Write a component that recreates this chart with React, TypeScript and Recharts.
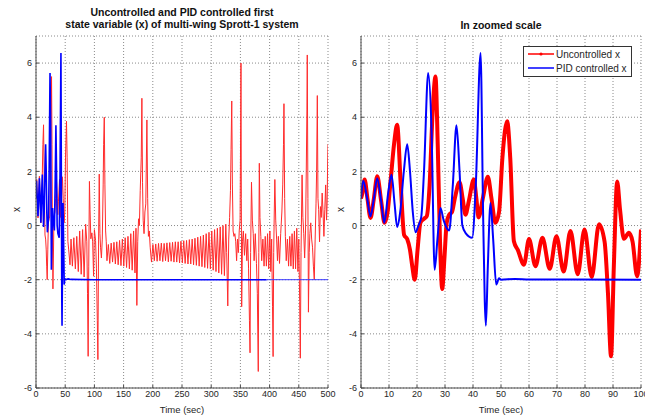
import { LineChart, Line, XAxis, YAxis, CartesianGrid } from 'recharts'

// [time (sec), x]
const uncontrolled: [number, number][] = [
  [0, 1.0], [0.5, 1.2], [1.3, 1.7], [2.3, 1.0], [3.4, 0.28], [4.6, 1.0], [5.8, 1.82], [7.2, 0.9],
  [8.4, 0.1], [9.5, 0.5], [10.7, 1.8], [11.8, 3.0], [12.9, 3.72], [14.2, 1.5], [15.4, -0.35],
  [16.5, -0.5], [17.5, -0.9], [18.3, -1.5], [19.2, -2.0], [20.2, -0.9], [21.2, 0.1], [22.5, 0.25],
  [23.5, 0.35], [24.5, 1.5], [25.5, 4.0], [26.6, 5.5], [27.4, 3.0], [28.2, -0.5], [29, -2.34],
  [29.8, -1.2], [30.6, 0.1], [31.5, 0.4], [32.5, 0.5], [33.5, 1.0], [35.2, 1.6], [36.3, 1.0],
  [37.3, 0.4], [38.5, 0.9], [40.3, 1.7], [41.2, 1.0], [42, 0.3], [43.5, 1.0], [45.3, 1.8],
  [46.6, 1.0], [48, 0.1], [49.3, 0.5], [50.5, 2.5], [52.2, 3.85], [53.3, 2.5], [54.6, -0.58],
  [56, -0.9], [58.2, -1.45], [60, -0.5], [62.3, -1.5], [64.8, -0.45], [67.4, -1.6], [69.8, -0.4],
  [72.4, -1.7], [74.8, -0.2], [77.4, -1.8], [79.8, -0.15], [82.4, -1.9], [85, 0.05], [87, -0.6],
  [88.2, -2.5], [89.3, -4.83], [90.3, -1.5], [91.5, 1.63], [92.5, 0.6], [93.9, -0.49], [95.7, -0.27],
  [97, -0.6], [98.6, -1.87], [100, -0.15],
  [102, -0.55], [103.5, -1.6], [105, -3.5], [106, -4.95], [107.2, -0.5], [108.3, 1.9], [109.5, -0.3],
  [110.5, -0.8], [112, -1.2], [113.5, -0.5], [115, 1.5], [115.8, 3.0], [116.9, 4.0], [118, 1.5],
  [119.2, -0.2], [120.3, -0.6], [121.5, -1.3], [123.9, -0.7], [126.3, -1.4], [128.7, -0.65],
  [131.1, -1.35], [133.5, -0.62], [135.9, -1.42], [138.3, -0.6], [140.7, -1.45], [143.1, -0.55],
  [145.5, -1.48], [147.9, -0.5], [150.3, -1.5], [152.7, -0.45], [155.1, -1.55], [157.5, -0.4],
  [159.9, -1.6], [162.3, -0.3], [164.7, -1.65], [167.1, -0.2], [169.5, -1.75], [171.2, -0.1],
  [172.7, -2.95], [174.2, -0.6], [175.6, 0.25], [177, 0.0], [178.5, 1.3], [180.2, 2.5], [181.3, 4.7],
  [182.4, 1.6], [183.5, 0.2], [185, -0.3], [186.5, 0.5], [188, 0.8], [189.9, 3.9], [191.2, 1.0],
  [192.5, -0.4], [194, -0.2], [195.5, -0.8], [197.8, -1.35], [200.2, -0.7], [202.6, -1.3],
  [205, -0.68], [207.4, -1.32], [209.8, -0.66], [212.2, -1.3], [214.6, -0.65], [217, -1.33],
  [219.4, -0.66], [221.8, -1.3], [224.2, -0.64], [226.6, -1.34], [229, -0.63], [231.4, -1.32],
  [233.8, -0.62], [236.2, -1.35], [238.6, -0.6], [241, -1.35], [243.4, -0.6], [245.8, -1.38],
  [248.2, -0.58], [250.6, -1.38], [253, -0.56], [255.4, -1.4], [257.8, -0.55], [260.2, -1.42],
  [262.6, -0.52], [265, -1.42], [267.4, -0.5], [269.8, -1.45], [272.2, -0.47], [274.6, -1.47],
  [277, -0.43], [279.4, -1.5], [281.8, -0.4], [284.2, -1.52], [286.6, -0.35], [289, -1.55],
  [291.4, -0.3], [293.8, -1.58], [296.2, -0.25], [298.6, -1.6], [301, -0.2], [303.4, -1.65],
  [305.8, -0.15], [308.2, -1.7], [310.6, -0.1], [313, -1.75], [315.4, -0.05], [317.8, -1.8],
  [320.2, 0.0], [322.6, -1.85], [325, 0.05], [326.5, -1.0], [328.4, -2.97], [330, -0.5], [331.5, 0.3],
  [333, 1.3], [334, 2.8], [335.2, 4.6], [336.3, 1.5], [337.5, -0.2], [339, -0.4], [340.5, -0.3],
  [342, -0.6], [343.5, -1.3], [345, -0.5], [346.5, -1.0], [348, -0.2], [349.5, 0.2], [350.5, 4.0],
  [351, 6.0], [351.6, 1.0], [352.2, -3.0], [353.5, -0.6], [355, -0.2], [357, -1.1], [359, -0.3],
  [361, -1.3], [362.5, -0.5], [364, -1.6], [365.5, -3.5], [366.5, -4.7], [367.5, -1.0], [369, 1.6],
  [370.5, 0.2], [372, -0.3], [373.5, -1.3], [375.5, -0.3], [377.5, -1.4], [379, -2.5], [380.6, -5.39],
  [381.5, -1.0], [382.4, 2.3], [383.5, 0.3], [385, -0.4], [386.5, -1.3], [388.5, -0.5], [390.5, -1.5],
  [392.5, -0.4], [394.5, -1.5], [396.5, -0.3], [398.5, -1.6], [400.5, -0.2], [402, -1.7], [403.5, -0.5],
  [405, -3.0], [406, -4.84], [407, -1.0], [408, 0.5], [409, 1.7], [410.5, 0.2], [412, -0.5],
  [413.5, -1.3], [415, -0.4], [417, -1.4], [419, -0.3], [421, 0.5], [422.5, 1.5], [423.8, 3.0],
  [424.6, 4.5], [425.8, 1.0], [427, -0.4], [428.5, -1.3], [430.5, -0.5], [432.5, -1.5], [434.5, -0.4],
  [436.5, -1.5], [438.5, -0.3], [440.5, -1.6], [442.5, -0.2], [444.5, -1.6], [446.5, -0.1],
  [448.5, -1.7], [450, -0.5], [451.5, -2.8], [452.6, -4.9], [453.8, -1.0], [455.6, 1.87], [457, 0.3],
  [458.5, -0.3], [460, -1.2], [461.5, -0.2], [462.8, 2.0], [463.9, 4.3], [464.5, 6.3], [465.6, 1.0],
  [466.5, -3.2], [467.8, -1.0], [469, -0.3], [470.5, 0.1], [472, -0.5], [473.5, -0.8], [475, -1.5],
  [476.5, -2.0], [478, -0.5], [479.5, 0.8], [480.5, 2.0], [481.7, 4.8], [482.8, 1.0], [484, 0.6],
  [485.5, -0.6], [487, 0.7], [488.5, 0.3], [490, 1.2], [491.5, 0.5], [493, -0.4], [494.5, 0.6],
  [496, 1.5], [497.5, 0.2], [498.5, 0.8], [499.5, 2.5], [500, 3.0],
]

const pidControlled: [number, number][] = [
  [0, 1.0], [0.8, 1.65], [2.2, 1.0], [3.4, 0.34], [4.6, 1.0], [5.8, 1.75], [7.2, 0.9], [8.3, 0.1],
  [9.7, 1.2], [10.9, 1.88], [12, 0.8], [12.9, -0.05], [14, 0.5], [15.3, 2.0], [16.5, 3.0], [17.5, 2.0],
  [18.5, 0.5], [19.5, -0.25], [20.5, 0.0], [21.5, 0.3], [22.5, 2.0], [24, 5.63], [25.2, 3.5],
  [26.3, -1.63], [27.3, -0.5], [28.4, 0.65], [29.5, 0.2], [31.5, -0.18], [32.8, 1.5], [34.1, 3.7],
  [35.2, 2.0], [36.2, 0.0], [37.5, -0.3], [39.7, -0.45], [41, 1.5], [42.7, 6.37], [43.6, 0.5],
  [44.2, -2.8], [44.6, -3.7], [45.3, -1.5], [46.25, 0.83], [47.2, -0.5], [48.3, -2.18], [49.3, -1.95],
  [50, -2.0], [55, -1.97], [60, -1.99], [100, -2.0], [395, -2.0], [500, -2.0],
]

const fullTimeTicks = [0, 50, 100, 150, 200, 250, 300, 350, 400, 450, 500]
const zoomTimeTicks = [0, 10, 20, 30, 40, 50, 60, 70, 80, 90, 100]
const stateTicks = [-6, -4, -2, 0, 2, 4, 6]
const seriesNames = ['Uncontrolled x', 'PID controlled x']
const leftTitle = ['Uncontrolled and PID controlled first', 'state variable (x) of multi-wing Sprott-1 system']
const rightTitle = ['In zoomed scale']

const RED = '#ff0000'
const BLUE = '#0000ff'
const FONT = '"Liberation Sans", Arial, Helvetica, sans-serif'
const AXIS = '#4a4a4a'
const TXT = '#262626'

const rows = (pts: [number, number][], from: number, to: number) =>
  pts.filter(([t]) => t >= from && t <= to).map(([t, x]) => ({ t, x }))

interface PanelProps {
  left: number
  width: number
  axisX: number
  plotRight: number
  maxT: number
  ticks: number[]
  zoomed: boolean
  labelOffset: number
}

function Panel({ left, width, axisX, plotRight, maxT, ticks, zoomed, labelOffset }: PanelProps) {
  const red = rows(uncontrolled, 0, maxT)
  const blueThick = rows(pidControlled, 0, zoomed ? maxT : 395)
  const blueThin = rows(pidControlled, 395, maxT)
  const tickStyle = { fill: TXT, fontSize: 9, fontFamily: FONT }

  return (
    <div style={{ position: 'absolute', left, top: 0 }}>
      <LineChart
        width={width}
        height={417}
        margin={{ top: 36, right: width - plotRight, bottom: 3, left: 0 }}
      >
        <CartesianGrid stroke="#8a8a8a" strokeDasharray="1 2" />
        <XAxis
          dataKey="t" type="number" domain={[0, maxT]} ticks={ticks} interval={0}
          allowDataOverflow height={26} stroke={AXIS}
          tickSize={-3} tickMargin={6} tick={tickStyle}
          label={{ value: 'Time (sec)', position: 'insideBottom', offset: 1, fill: TXT, fontSize: 9.5, fontFamily: FONT }}
        />
        <XAxis
          xAxisId="top" orientation="top" type="number" domain={[0, maxT]} ticks={ticks}
          interval={0} height={0} stroke={AXIS} tickSize={-3} tick={false}
        />
        <YAxis
          type="number" domain={[-6, 7]} ticks={stateTicks} interval={0} allowDataOverflow
          width={axisX} stroke={AXIS} tickSize={-3} tickMargin={7} tick={tickStyle}
          label={{ value: 'x', angle: -90, position: 'insideLeft', offset: labelOffset, fill: TXT, fontSize: 10, fontFamily: FONT }}
        />
        <YAxis
          yAxisId="right" orientation="right" type="number" domain={[-6, 7]} ticks={stateTicks}
          interval={0} width={0} stroke={AXIS} tickSize={-3} tick={false}
        />
        <Line
          data={red} dataKey="x" name={seriesNames[0]} type={zoomed ? 'monotone' : 'linear'}
          stroke={zoomed ? RED : '#ff2b2b'} strokeWidth={zoomed ? 4 : 1} dot={false} isAnimationActive={false}
        />
        <Line
          data={blueThick} dataKey="x" name={seriesNames[1]} type={zoomed ? 'monotone' : 'linear'}
          stroke={BLUE} strokeWidth={zoomed ? 2 : 1.6} dot={false} isAnimationActive={false}
        />
        {!zoomed && (
          <Line
            data={blueThin} dataKey="x" type="linear" stroke="#3a3aff"
            strokeWidth={1} dot={false} isAnimationActive={false}
          />
        )}
      </LineChart>
    </div>
  )
}

function Title({ lines, cx }: { lines: string[]; cx: number }) {
  const top = lines.length > 1 ? 6 : 19
  return (
    <div style={{
      position: 'absolute', left: cx - 160, top, width: 320, textAlign: 'center',
      fontFamily: FONT, fontWeight: 700, fontSize: 10.5, lineHeight: '12px', color: '#111',
    }}>
      {lines.map(l => <div key={l}>{l}</div>)}
    </div>
  )
}

export default function App() {
  return (
    <div style={{ position: 'absolute', left: 0, top: 0, width: 645, height: 417, background: '#fff', overflow: 'hidden' }}>
      <Panel left={0} width={345} axisX={36} plotRight={328} maxT={500} ticks={fullTimeTicks} zoomed={false} labelOffset={16} />
      <Panel left={330} width={315} axisX={31} plotRight={311} maxT={100} ticks={zoomTimeTicks} zoomed labelOffset={10} />
      <Title lines={leftTitle} cx={182} />
      <Title lines={rightTitle} cx={501} />

      {/* legend */}
      <div style={{
        position: 'absolute', left: 523, top: 46, width: 107, height: 29,
        border: '1px solid #333', background: '#fff',
        fontFamily: FONT, fontSize: 10, color: TXT,
      }}>
        {seriesNames.map((name, i) => (
          <div key={name} style={{ position: 'absolute', left: 4, top: i * 14, height: 14, display: 'flex', alignItems: 'center', whiteSpace: 'nowrap' }}>
            <svg width={26} height={6}>
              <line x1={0} y1={3} x2={26} y2={3} stroke={i === 0 ? RED : BLUE} strokeWidth={1.5} />
              {i === 0 && <circle cx={13} cy={3} r={1.6} fill={RED} />}
            </svg>
            <span style={{ marginLeft: 2 }}>{name}</span>
          </div>
        ))}
      </div>
    </div>
  )
}
